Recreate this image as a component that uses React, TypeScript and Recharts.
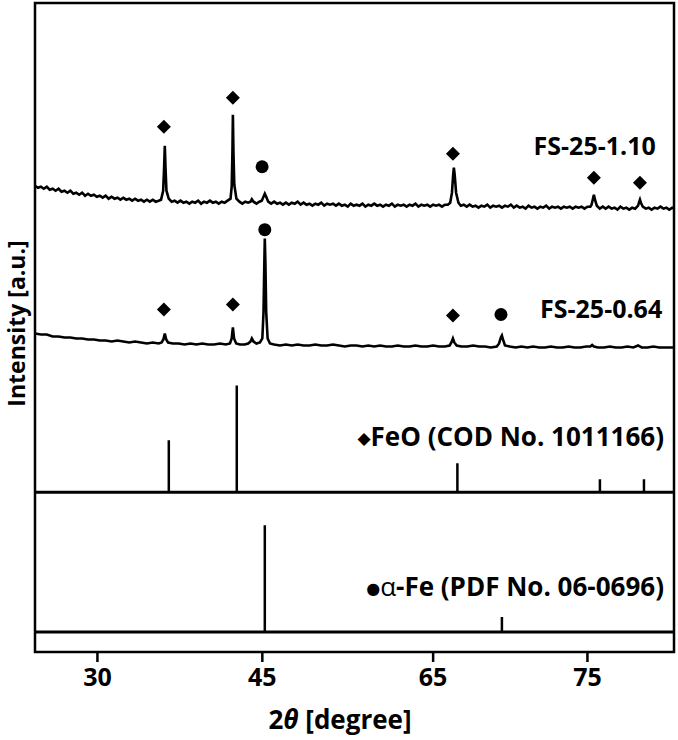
import React from 'react';
import {
  ComposedChart,
  Line,
  Scatter,
  XAxis,
  YAxis,
  ReferenceLine,
  ReferenceArea,
  ReferenceDot,
} from 'recharts';

// 2θ axis
const xDomain: [number, number] = [24.7, 78.95];
const xTicks = [30, 44, 58.5, 71.6];
const xTickLabels = ['30', '45', '65', '75'];

// Pattern FS-25-1.10 (2θ, intensity a.u., offset stacked)
const patternA: [number, number][] = [
  [24.7, 467], [24.95, 465], [25.2, 466], [25.45, 464], [25.7, 466], [25.95, 463], [26.2, 464],
  [26.45, 462], [26.7, 464], [26.95, 461], [27.2, 462], [27.45, 460], [27.7, 462], [27.95, 459],
  [28.2, 460], [28.45, 458], [28.7, 460], [28.95, 457], [29.2, 459], [29.45, 457], [29.7, 458],
  [29.95, 456], [30.2, 457], [30.45, 455], [30.7, 457], [30.95, 454], [31.2, 456], [31.45, 454],
  [31.7, 455], [31.95, 453], [32.2, 455], [32.45, 453], [32.7, 454], [32.95, 452], [33.2, 454],
  [33.45, 452], [33.7, 453], [33.95, 451], [34.2, 453], [34.45, 451], [34.7, 453], [34.95, 451],
  [35.2, 452], [35.4, 453], [35.58, 462], [35.66, 485], [35.72, 507], [35.78, 485], [35.86, 462],
  [36.05, 454], [36.3, 451], [36.55, 452], [36.8, 450], [37.05, 452], [37.3, 450], [37.55, 451],
  [37.8, 449], [38.05, 451], [38.3, 450], [38.55, 452], [38.8, 449], [39.05, 451], [39.3, 450],
  [39.55, 452], [39.8, 450], [40.05, 451], [40.3, 449], [40.55, 451], [40.8, 450], [41.05, 452],
  [41.3, 454], [41.4, 466], [41.46, 500], [41.5, 538], [41.55, 500], [41.62, 468], [41.8, 454],
  [42.05, 451], [42.3, 449], [42.55, 451], [42.8, 450], [43.0, 451], [43.11, 453.5], [43.25, 451],
  [43.5, 449], [43.75, 451], [43.95, 452], [44.1, 456], [44.21, 459], [44.33, 456], [44.5, 451],
  [44.75, 449], [45.0, 451], [45.25, 449], [45.5, 450], [45.75, 448], [46.0, 450], [46.25, 448],
  [46.5, 450], [46.75, 449], [47.0, 451], [47.25, 448], [47.5, 450], [47.75, 448], [48.0, 449],
  [48.25, 447], [48.5, 449], [48.75, 448], [49.0, 450], [49.25, 447], [49.5, 449], [49.75, 448],
  [50.0, 449], [50.25, 447], [50.5, 449], [50.75, 447], [51.0, 448], [51.25, 446], [51.5, 449],
  [51.75, 447], [52.0, 448], [52.25, 447], [52.5, 449], [52.75, 446], [53.0, 448], [53.25, 447],
  [53.5, 449], [53.75, 447], [54.0, 448], [54.25, 446], [54.5, 448], [54.75, 447], [55.0, 449],
  [55.25, 446], [55.5, 448], [55.75, 447], [56.0, 448], [56.25, 446], [56.5, 448], [56.75, 447],
  [57.0, 449], [57.25, 446], [57.5, 448], [57.75, 447], [58.0, 448], [58.25, 446], [58.5, 448],
  [58.75, 447], [59.0, 448], [59.25, 446], [59.5, 448], [59.75, 448], [59.95, 450], [60.1, 460],
  [60.2, 478], [60.26, 485], [60.33, 478], [60.45, 460], [60.65, 450], [60.85, 447], [61.1, 448],
  [61.35, 446], [61.6, 448], [61.85, 446], [62.1, 447], [62.35, 445], [62.6, 447], [62.85, 446],
  [63.1, 448], [63.35, 445], [63.6, 447], [63.85, 446], [64.1, 447], [64.35, 445], [64.6, 447],
  [64.85, 446], [65.1, 448], [65.35, 445], [65.6, 447], [65.85, 445], [66.1, 446], [66.35, 444],
  [66.6, 447], [66.85, 445], [67.1, 446], [67.35, 444], [67.6, 446], [67.85, 445], [68.1, 447],
  [68.35, 444], [68.6, 446], [68.85, 445], [69.1, 446], [69.35, 444], [69.6, 446], [69.85, 445],
  [70.1, 446], [70.35, 444], [70.6, 446], [70.85, 445], [71.1, 446], [71.35, 444], [71.6, 446],
  [71.85, 446], [71.95, 448], [72.07, 454], [72.15, 458], [72.24, 453], [72.4, 447], [72.65, 444],
  [72.9, 446], [73.15, 444], [73.4, 446], [73.65, 444], [73.9, 445], [74.15, 443], [74.4, 446],
  [74.65, 444], [74.9, 445], [75.15, 443], [75.4, 445], [75.65, 444], [75.9, 447], [76.0, 451],
  [76.06, 453], [76.14, 450], [76.3, 446], [76.55, 444], [76.8, 445], [77.05, 443], [77.3, 445],
  [77.55, 444], [77.8, 446], [78.05, 444], [78.3, 445], [78.55, 443], [78.8, 445], [78.95, 444],
];

// Pattern FS-25-0.64
const patternB: [number, number][] = [
  [24.7, 319], [25.2, 318], [25.7, 318], [26.2, 316], [26.7, 316], [27.2, 315], [27.7, 315],
  [28.2, 314], [28.7, 314], [29.2, 313], [29.7, 313], [30.2, 312], [30.7, 312], [31.2, 311],
  [31.7, 312], [32.2, 311], [32.7, 310], [33.2, 311], [33.7, 310], [34.2, 309], [34.7, 310],
  [35.2, 309], [35.45, 310], [35.6, 313], [35.72, 319], [35.84, 313], [36.0, 310], [36.4, 309],
  [36.9, 309], [37.4, 308], [37.9, 309], [38.4, 308], [38.9, 309], [39.4, 308], [39.9, 308],
  [40.4, 309], [40.9, 308], [41.25, 309], [41.4, 314], [41.5, 325], [41.6, 314], [41.78, 309],
  [42.1, 308], [42.5, 308], [42.8, 309], [43.0, 311], [43.11, 314], [43.25, 311], [43.5, 309],
  [43.8, 310], [44.0, 314], [44.1, 340], [44.17, 390], [44.21, 414], [44.26, 390], [44.33, 340],
  [44.45, 314], [44.65, 309], [45.0, 308], [45.5, 307], [46.0, 308], [46.5, 307], [47.0, 308],
  [47.5, 307], [48.0, 307], [48.5, 308], [49.0, 307], [49.5, 307], [50.0, 308], [50.5, 307],
  [51.0, 306], [51.5, 307], [52.0, 307], [52.5, 306], [53.0, 307], [53.5, 306], [54.0, 307],
  [54.5, 306], [55.0, 306], [55.5, 307], [56.0, 306], [56.5, 306], [57.0, 307], [57.5, 306],
  [58.0, 306], [58.5, 307], [59.0, 306], [59.5, 306], [59.9, 307], [60.05, 310], [60.18, 314],
  [60.3, 310], [60.5, 307], [60.9, 306], [61.4, 306], [61.9, 307], [62.4, 306], [62.9, 306],
  [63.4, 305], [63.9, 306], [64.1, 309], [64.25, 315], [64.34, 317], [64.43, 313], [64.6, 307],
  [65.0, 306], [65.5, 305], [66.0, 306], [66.5, 305], [67.0, 306], [67.5, 305], [68.0, 305],
  [68.5, 306], [69.0, 305], [69.5, 305], [70.0, 306], [70.5, 305], [71.0, 305], [71.5, 306],
  [71.85, 306], [72.0, 307.5], [72.15, 306], [72.5, 305], [73.0, 305], [73.5, 306], [74.0, 305],
  [74.5, 305], [75.0, 306], [75.5, 305], [75.9, 307], [76.2, 305], [76.7, 305], [77.2, 306],
  [77.7, 305], [78.2, 305], [78.95, 305],
];

// Reference sticks
const feoBase = 160;
const feoPos = [36.06, 41.83, 60.56, 72.66, 76.4];
const feoTop = [212, 267, 189, 173, 173];
const feBase = 20;
const fePos = [44.21, 64.34];
const feTop = [127, 35];

// Phase markers
const diamondsA: [number, number][] = [[35.64, 526], [41.5, 555], [60.18, 499], [72.15, 475], [76.06, 470]];
const circlesA: [number, number][] = [[43.98, 486]];
const diamondsB: [number, number][] = [[35.64, 343], [41.5, 348], [60.18, 337]];
const circlesB: [number, number][] = [[44.21, 423], [64.26, 338]];

const FONT = '"Open Sans", "DejaVu Sans", sans-serif';

const toPts = (arr: [number, number][]) => arr.map(([x, y]) => ({ x, y }));
const sticks = (pos: number[], top: number[], base: number) =>
  pos.flatMap((x, i) => [
    { x, y: base },
    { x, y: top[i] },
    { x, y: null as number | null },
  ]);

const DiamondShape = (p: any) => {
  const { cx, cy } = p;
  const s = 7;
  return <polygon points={`${cx},${cy - s} ${cx + s},${cy} ${cx},${cy + s} ${cx - s},${cy}`} fill="#000" />;
};
const CircleShape = (p: any) => <circle cx={p.cx} cy={p.cy} r={6.5} fill="#000" />;

const textShape = (content: React.ReactNode, size: number) => (p: any) => (
  <text x={p.cx} y={p.cy} textAnchor="end" fontFamily={FONT} fontWeight={700} fontSize={size} fill="#000">
    {content}
  </text>
);

export default function App() {
  return (
    <div style={{ position: 'absolute', left: 0, top: 0, background: '#fff' }}>
      <ComposedChart width={678} height={740} margin={{ top: 3, right: 4, bottom: 0, left: 0 }}>
        <XAxis
          type="number"
          dataKey="x"
          domain={xDomain}
          allowDataOverflow
          ticks={xTicks}
          tickFormatter={(v: number) => xTickLabels[xTicks.indexOf(v)] ?? ''}
          height={88}
          tickSize={10}
          tickMargin={6}
          axisLine={{ stroke: '#000', strokeWidth: 2 }}
          tickLine={{ stroke: '#000', strokeWidth: 2.5 }}
          tick={{ fill: '#000', fontSize: 25, fontWeight: 700, fontFamily: FONT }}
          label={{
            content: (props: any) => {
              const vb = props.viewBox;
              return (
                <text x={340} y={vb.y + 77} textAnchor="middle" fontFamily={FONT} fontWeight={700} fontSize={26} fill="#000">
                  2<tspan fontStyle="italic">θ</tspan> [degree]
                </text>
              );
            },
          }}
        />
        <YAxis
          type="number"
          domain={[0, 650]}
          width={35}
          tick={false}
          tickLine={false}
          axisLine={false}
          label={{
            content: (props: any) => {
              const vb = props.viewBox;
              const x = 25;
              const y = vb.y + vb.height / 2 - 4;
              return (
                <text x={x} y={y} transform={`rotate(-90, ${x}, ${y})`} textAnchor="middle" fontFamily={FONT} fontWeight={700} fontSize={23} fill="#000">
                  Intensity [a.u.]
                </text>
              );
            },
          }}
        />
        <ReferenceArea x1={xDomain[0]} x2={xDomain[1]} y1={0} y2={650} fill="none" stroke="#000" strokeWidth={2.5} />
        <ReferenceLine y={feoBase} stroke="#000" strokeWidth={3} />
        <ReferenceLine y={feBase} stroke="#000" strokeWidth={3} />

        <Line data={toPts(patternA)} dataKey="y" stroke="#000" strokeWidth={2.6} dot={false} isAnimationActive={false} type="linear" />
        <Line data={toPts(patternB)} dataKey="y" stroke="#000" strokeWidth={2.6} dot={false} isAnimationActive={false} type="linear" />
        <Line data={sticks(feoPos, feoTop, feoBase)} dataKey="y" stroke="#000" strokeWidth={2.5} dot={false} isAnimationActive={false} type="linear" />
        <Line data={sticks(fePos, feTop, feBase)} dataKey="y" stroke="#000" strokeWidth={2.5} dot={false} isAnimationActive={false} type="linear" />

        <Scatter data={toPts(diamondsA)} dataKey="y" shape={DiamondShape} isAnimationActive={false} />
        <Scatter data={toPts(circlesA)} dataKey="y" shape={CircleShape} isAnimationActive={false} />
        <Scatter data={toPts(diamondsB)} dataKey="y" shape={DiamondShape} isAnimationActive={false} />
        <Scatter data={toPts(circlesB)} dataKey="y" shape={CircleShape} isAnimationActive={false} />

        <ReferenceDot x={77.4} y={498} r={0} shape={textShape('FS-25-1.10', 25)} />
        <ReferenceDot x={77.95} y={335} r={0} shape={textShape('FS-25-0.64', 25)} />
        <ReferenceDot
          x={78.1}
          y={206}
          r={0}
          shape={textShape(
            <>
              <tspan fontSize={17} dy={-2}>◆</tspan>
              <tspan dy={2}>FeO (COD No. 1011166)</tspan>
            </>,
            26
          )}
        />
        <ReferenceDot
          x={78.1}
          y={56}
          r={0}
          shape={textShape(
            <>
              <tspan fontSize={16} dy={-2}>●</tspan>
              <tspan dy={2} fontWeight={400}>α</tspan>-Fe (PDF No. 06-0696)
            </>,
            26
          )}
        />
      </ComposedChart>
    </div>
  );
}
